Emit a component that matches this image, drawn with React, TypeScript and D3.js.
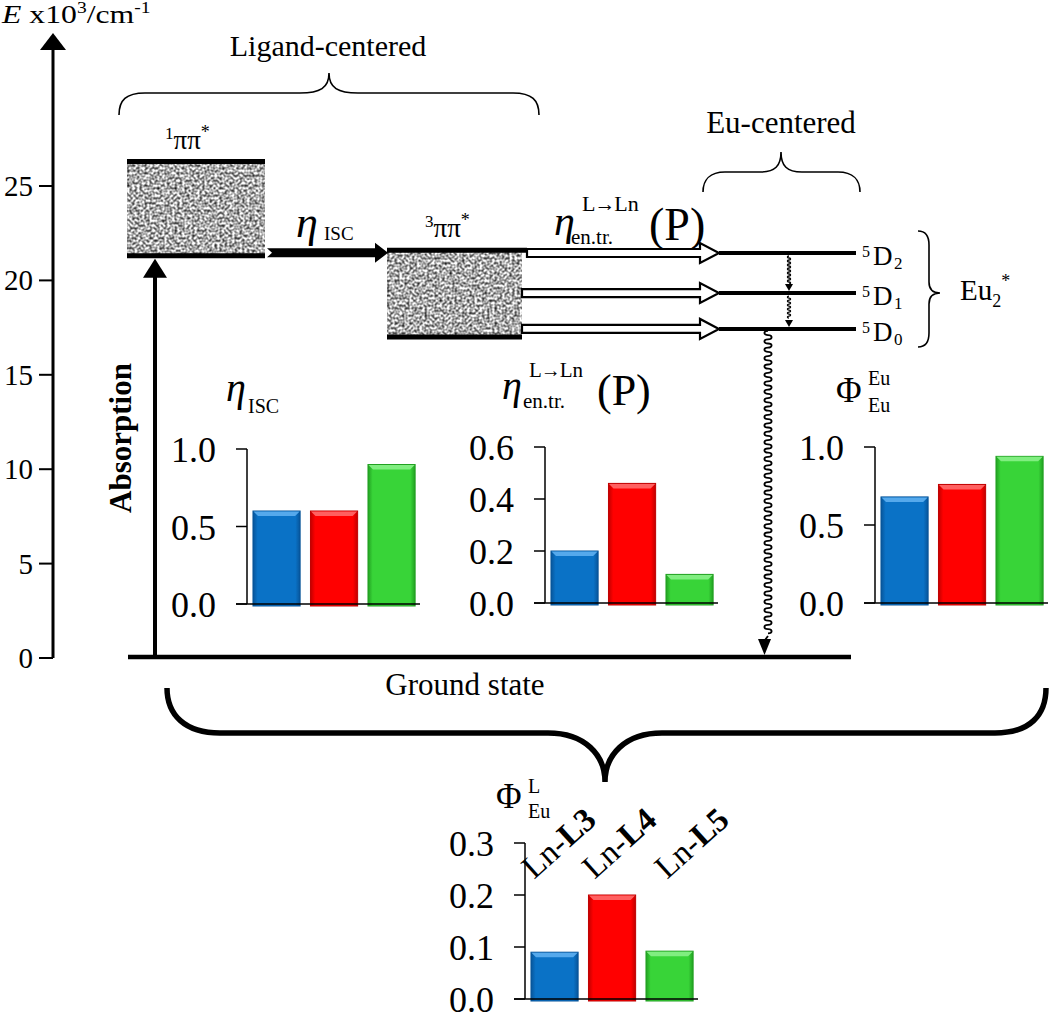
import React from 'react';
import * as d3 from 'd3';

// ---------- data ----------
const energyTicks = [0, 5, 10, 15, 20, 25];
const singletLevels = [21.3, 26.3]; // 1ππ* bottom / top (x10^3 cm-1)
const tripletLevels = [17.0, 21.6]; // 3ππ* bottom / top
const euLevels = [21.45, 19.33, 17.43]; // 5D2, 5D1, 5D0
const euLevelSubs = ['2', '1', '0'];

const complexes = ['Ln-L3', 'Ln-L4', 'Ln-L5'];
const etaISC = [0.6, 0.6, 0.9];
const etaEnTr = [0.2, 0.46, 0.11];
const phiEuEu = [0.68, 0.76, 0.94];
const phiEuL = [0.09, 0.2, 0.092];
const ticksUnit = [0, 0.5, 1.0];
const ticksEnTr = [0, 0.2, 0.4, 0.6];
const ticksPhiL = [0, 0.1, 0.2, 0.3];

// ---------- style ----------
const FONT = "'Liberation Serif', 'DejaVu Serif', serif";
const barColors = [
  { main: '#0A72C6', light: '#55A9EC', dark: '#07559A' },
  { main: '#FF0000', light: '#FF6060', dark: '#C00000' },
  { main: '#38D438', light: '#80EE80', dark: '#22A022' },
];
const labelOffsets = [3, 6, 21];

function BarChart({ axisX, y0, yTop, max, ticks, values, names }: any) {
  const y = d3.scaleLinear().domain([0, max]).range([y0, yTop]);
  const x = d3
    .scaleBand<string>()
    .domain(complexes)
    .range([axisX + 0.8, axisX + 173.3])
    .paddingInner(0.18)
    .paddingOuter(0.09);
  const bw = x.bandwidth();
  return (
    <g>
      {values.map((v: number, i: number) => {
        const bx = x(complexes[i]) as number;
        const by = y(v);
        const h = y0 - by + 2;
        const b = 5;
        return (
          <g key={i}>
            <rect x={bx} y={by} width={bw} height={h} fill={`url(#bg${i})`} stroke={barColors[i].dark} strokeWidth={1} />
            <polygon
              points={`${bx + 0.5},${by + 0.5} ${bx + bw - 0.5},${by + 0.5} ${bx + bw - b},${by + b} ${bx + b},${by + b}`}
              fill={barColors[i].light}
            />
          </g>
        );
      })}
      <line x1={axisX} x2={axisX} y1={yTop} y2={y0} stroke="#000" strokeWidth={1.5} />
      {ticks.map((t: number) => (
        <g key={t}>
          <line x1={axisX - 11} x2={axisX} y1={y(t)} y2={y(t)} stroke="#000" strokeWidth={1.5} />
          <text x={axisX - 31} y={y(t) + 13} textAnchor="end" fontSize={36}>
            {t.toFixed(1)}
          </text>
        </g>
      ))}
      <line x1={axisX - 11} x2={axisX + 173} y1={y0} y2={y0} stroke="#000" strokeWidth={1.6} />
      {names &&
        complexes.map((c, i) => {
          const [pre, bold] = c.split('-');
          const bx = (x(c) as number) + labelOffsets[i];
          return (
            <text key={c} transform={`translate(${bx},${880}) rotate(-42)`} fontSize={33}>
              {pre + '-'}
              <tspan fontWeight="bold">{bold}</tspan>
            </text>
          );
        })}
    </g>
  );
}

function wavePath(x: number, yStart: number, yEnd: number, rx: number, ry: number) {
  let d = `M${x},${yStart}`;
  let yy = yStart;
  let flip = 0;
  while (yy + 2 * ry <= yEnd) {
    d += ` A${rx},${ry} 0 0 ${flip} ${x},${yy + 2 * ry}`;
    yy += 2 * ry;
    flip = 1 - flip;
  }
  return d;
}

function LtoLn({ x, y, size }: { x: number; y: number; size: number }) {
  return (
    <text x={x} y={y} fontSize={size}>
      L
      <tspan dx={-1} fontSize={size * 0.95}>→</tspan>
      <tspan dx={-1}>Ln</tspan>
    </text>
  );
}

export default function App() {
  const yE = d3.scaleLinear().domain([0, 25]).range([658, 186]);

  const s1Top = yE(singletLevels[1]);
  const s1Bot = yE(singletLevels[0]);
  const t1Top = yE(tripletLevels[1]);
  const t1Bot = yE(tripletLevels[0]);
  const euY = euLevels.map((e) => yE(e));

  const openArrow = (x0: number, x1: number, yy: number) =>
    `${x0},${yy - 4} ${x1 - 19},${yy - 4} ${x1 - 19},${yy - 10} ${x1},${yy} ${x1 - 19},${yy + 10} ${x1 - 19},${yy + 4} ${x0},${yy + 4}`;

  return (
    <svg
      width={1050}
      height={1014}
      style={{ position: 'absolute', left: 0, top: 0, background: '#fff', fontFamily: FONT }}
    >
      <style>{`text { font-family: 'Liberation Serif', 'DejaVu Serif', serif; }`}</style>
      <defs>
        <filter id="noise" x="0" y="0" width="1" height="1" colorInterpolationFilters="sRGB">
          <feTurbulence type="fractalNoise" baseFrequency="0.4" numOctaves={1} seed={11} />
          <feColorMatrix
            type="matrix"
            values="1.7 0 0 0 -0.18  1.7 0 0 0 -0.18  1.7 0 0 0 -0.18  0 0 0 0 1"
          />
        </filter>
        {barColors.map((c, i) => (
          <linearGradient id={`bg${i}`} key={i} x1="0" x2="1" y1="0" y2="0">
            <stop offset="0" stopColor={c.dark} />
            <stop offset="0.1" stopColor={c.main} />
            <stop offset="0.9" stopColor={c.main} />
            <stop offset="1" stopColor={c.dark} />
          </linearGradient>
        ))}
      </defs>
      <rect width={1050} height={1014} fill="#fff" />

      {/* energy axis */}
      <text transform="translate(2,23) scale(1.22,1)" fontSize={26}>
        <tspan fontStyle="italic">E</tspan>
        {' x10'}
        <tspan dy={-10} fontSize={16}>3</tspan>
        <tspan dy={10}>/cm</tspan>
        <tspan dy={-10} fontSize={16}>-1</tspan>
      </text>
      <line x1={53} x2={53} y1={yE(0)} y2={48} stroke="#000" strokeWidth={3} />
      <polygon points="40,50 53,33 66,50" fill="#000" />
      {energyTicks.map((t) => (
        <g key={t}>
          <line x1={39} x2={53} y1={yE(t)} y2={yE(t)} stroke="#000" strokeWidth={2} />
          <text x={33} y={yE(t) + 10} textAnchor="end" fontSize={29}>
            {t}
          </text>
        </g>
      ))}

      {/* braces */}
      <text x={328} y={56} textAnchor="middle" fontSize={30}>Ligand-centered</text>
      <path
        d="M119,115 C119,100 126,93 145,93 L300,93 C320,93 329,88 329,73 C329,88 338,93 358,93 L513,93 C532,93 539,100 539,115"
        fill="none"
        stroke="#000"
        strokeWidth={1.6}
      />
      <text x={781} y={133} textAnchor="middle" fontSize={31}>Eu-centered</text>
      <path
        d="M703,192 C703,180 710,172 725,172 L760,172 C775,172 781,166 781,152 C781,166 787,172 802,172 L838,172 C853,172 860,180 860,192"
        fill="none"
        stroke="#000"
        strokeWidth={1.6}
      />
      <path
        d="M918,231 C926,231 929,236 929,245 L929,282 C929,289 933,293 940,293 C933,293 929,297 929,304 L929,333 C929,342 926,347 918,347"
        fill="none"
        stroke="#000"
        strokeWidth={1.6}
      />
      <text x={960} y={300} fontSize={29}>
        Eu
        <tspan dy={7} fontSize={18}>2</tspan>
        <tspan dy={-20} fontSize={18}>*</tspan>
      </text>
      <path
        d="M167,688 C167,715 185,733 220,733 L548,733 C585,733 605,755 605,782 C605,755 625,733 662,733 L995,733 C1030,733 1046,715 1046,688"
        fill="none"
        stroke="#000"
        strokeWidth={5.5}
      />

      {/* singlet state */}
      <rect x={127} y={s1Top} width={138} height={s1Bot - s1Top} filter="url(#noise)" fill="#aaa" />
      <line x1={127} x2={265} y1={s1Top} y2={s1Top} stroke="#000" strokeWidth={5} />
      <line x1={127} x2={265} y1={s1Bot} y2={s1Bot} stroke="#000" strokeWidth={5} />
      <text x={165} y={s1Top - 12} fontSize={27}>
        <tspan fontSize={17} dy={-10}>1</tspan>
        <tspan dy={10}>ππ</tspan>
        <tspan fontSize={18} dy={-11}>*</tspan>
      </text>

      {/* triplet state */}
      <rect x={387} y={t1Top} width={135} height={t1Bot - t1Top} filter="url(#noise)" fill="#aaa" />
      <line x1={387} x2={527} y1={t1Top} y2={t1Top} stroke="#000" strokeWidth={5} />
      <line x1={387} x2={522} y1={t1Bot} y2={t1Bot} stroke="#000" strokeWidth={5} />
      <text x={425} y={t1Top - 13} fontSize={27}>
        <tspan fontSize={17} dy={-10}>3</tspan>
        <tspan dy={10}>ππ</tspan>
        <tspan fontSize={18} dy={-11}>*</tspan>
      </text>

      {/* ISC arrow */}
      <polygon
        points={`267,${s1Bot - 7.5} 375,${s1Bot - 7.5} 375,${s1Bot - 13} 388,${s1Bot - 3} 375,${s1Bot + 7} 375,${s1Bot + 1.5} 267,${s1Bot + 1.5} 272,${s1Bot - 3}`}
        fill="#000"
      />
      <text x={296} y={237} fontSize={44} fontStyle="italic">η</text>
      <text x={324} y={240} fontSize={19}>ISC</text>

      {/* energy transfer label */}
      <text x={554} y={235} fontSize={42} fontStyle="italic">η</text>
      <LtoLn x={582} y={211} size={22} />
      <text x={571} y={244} fontSize={21}>en.tr.</text>
      <text x={649} y={240} fontSize={46}>(P)</text>

      {/* open arrows + Eu levels */}
      {euY.map((yy, i) => (
        <g key={i}>
          <polygon points={openArrow(i === 0 ? 527 : 522, 719, yy)} fill="#fff" stroke="#000" strokeWidth={2.2} strokeLinejoin="miter" />
          <line x1={719} x2={856} y1={yy} y2={yy} stroke="#000" strokeWidth={4} />
          <text x={862} y={yy + 4} fontSize={16}>5</text>
          <text x={873} y={yy + 12} fontSize={27}>D</text>
          <text x={894} y={yy + 16} fontSize={17}>{euLevelSubs[i]}</text>
        </g>
      ))}
      {/* internal relaxation arrows */}
      {[0, 1].map((i) => (
        <g key={i}>
          <path d={wavePath(789, euY[i] + 3, euY[i + 1] - 9, 1.6, 1)} fill="none" stroke="#000" strokeWidth={1.3} />
          <polygon points={`785,${euY[i + 1] - 9} 793,${euY[i + 1] - 9} 789,${euY[i + 1] - 2}`} fill="#000" />
        </g>
      ))}
      {/* radiative wavy decay */}
      <path d={wavePath(768, euY[2] + 2, 636, 3.6, 2.1)} fill="none" stroke="#000" strokeWidth={1.8} />
      <line x1={768} x2={765} y1={636} y2={640} stroke="#000" strokeWidth={1.8} />
      <polygon points="758,639 771,639 764.5,655" fill="#000" />

      {/* ground state */}
      <line x1={128} x2={851} y1={yE(0) - 1} y2={yE(0) - 1} stroke="#000" strokeWidth={4.5} />
      <text x={465} y={695} textAnchor="middle" fontSize={31}>Ground state</text>

      {/* absorption */}
      <line x1={155} x2={155} y1={yE(0) - 1} y2={s1Bot + 20} stroke="#000" strokeWidth={4} />
      <polygon points={`143,${s1Bot + 22} 155,${s1Bot + 3} 167,${s1Bot + 22}`} fill="#000" />
      <text transform="translate(131,438) rotate(-90)" textAnchor="middle" fontSize={31} fontWeight="bold">
        Absorption
      </text>

      {/* bar chart titles */}
      <text x={226} y={401} fontSize={40} fontStyle="italic">η</text>
      <text x={248} y={413} fontSize={20}>ISC</text>

      <text x={502} y={399} fontSize={40} fontStyle="italic">η</text>
      <LtoLn x={529} y={377} size={21} />
      <text x={523} y={408} fontSize={21}>en.tr.</text>
      <text x={597} y={405} fontSize={44}>(P)</text>

      <text x={836} y={402} fontSize={35}>Φ</text>
      <text x={868} y={385} fontSize={20}>Eu</text>
      <text x={868} y={412} fontSize={20}>Eu</text>

      <text x={496} y={808} fontSize={35}>Φ</text>
      <text x={528} y={793} fontSize={20}>L</text>
      <text x={528} y={818} fontSize={20}>Eu</text>

      {/* bar charts */}
      <BarChart axisX={247} y0={604} yTop={449} max={1} ticks={ticksUnit} values={etaISC} />
      <BarChart axisX={545} y0={603} yTop={447} max={0.6} ticks={ticksEnTr} values={etaEnTr} />
      <BarChart axisX={875} y0={603} yTop={447} max={1} ticks={ticksUnit} values={phiEuEu} />
      <BarChart axisX={525} y0={999} yTop={843} max={0.3} ticks={ticksPhiL} values={phiEuL} names />
    </svg>
  );
}
